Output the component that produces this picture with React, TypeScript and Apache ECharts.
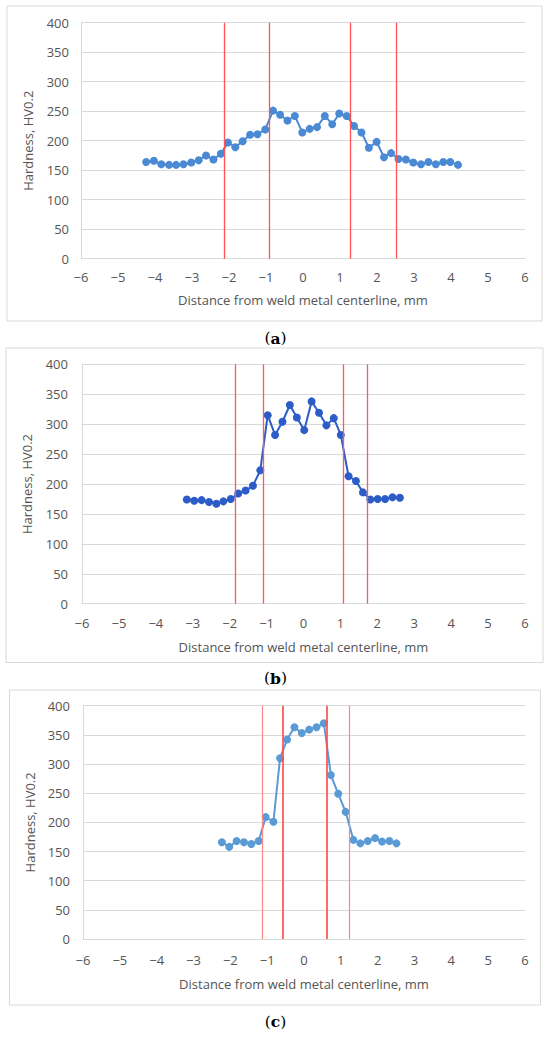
import React, { useEffect, useRef } from "react";
import * as echarts from "echarts";

// Panel (a)
const xA = [-4.24,-4.03,-3.83,-3.62,-3.43,-3.23,-3.02,-2.82,-2.62,-2.42,-2.22,-2.03,-1.83,-1.63,-1.43,-1.23,-1.02,-0.81,-0.62,-0.42,-0.22,-0.02,0.18,0.38,0.59,0.79,0.98,1.18,1.38,1.58,1.78,1.99,2.19,2.38,2.58,2.78,2.98,3.19,3.39,3.59,3.79,3.98,4.19];
const yA = [164,166,160,159,159,160,163,167,175,168,178,197,189,199,210,211,219,251,244,234,242,214,220,223,242,228,246,242,225,214,188,198,172,179,169,168,163,160,164,160,164,164,159];
const linesA = [-2.13, -0.92, 1.27, 2.52];

// Panel (b)
const xB = [-3.16,-2.96,-2.76,-2.56,-2.36,-2.17,-1.97,-1.77,-1.57,-1.37,-1.17,-0.97,-0.77,-0.57,-0.37,-0.18,0.02,0.22,0.42,0.62,0.82,1.01,1.22,1.42,1.61,1.81,2.01,2.21,2.41,2.61];
const yB = [174,172,173,170,167,171,175,184,189,197,223,315,282,304,332,311,290,338,319,298,310,282,213,205,186,174,175,175,178,177];
const linesB = [-1.84, -1.10, 1.07, 1.74];

// Panel (c)
const xC = [-2.23,-2.03,-1.83,-1.63,-1.43,-1.23,-1.04,-0.83,-0.65,-0.46,-0.26,-0.06,0.14,0.34,0.54,0.73,0.93,1.13,1.34,1.53,1.73,1.93,2.12,2.32,2.51];
const yC = [166,158,168,166,163,168,209,201,310,342,363,353,359,363,370,281,249,218,170,164,168,173,167,168,164];
const linesC = [-1.13, -0.57, 0.62, 1.22];

const captions = ["a", "b", "c"];
const xTitle = "Distance from weld metal centerline, mm";
const yTitle = "Hardness, HV0.2";

const FONT = "'Open Sans', 'Noto Sans', sans-serif";
const TXT = "#555555";
const GRID = "#d9d9d9";
const FS = 13;

const fmtX = (v: number) => (v < 0 ? "\u2212" + Math.abs(v) : String(v));

export default function App() {
  const ref = useRef<HTMLDivElement>(null);
  useEffect(() => {
    if (!ref.current) return;
    const chart = echarts.init(ref.current, undefined, { renderer: "svg" });

    const grids = [
      { left: 81, top: 22.7, width: 444, height: 236 },
      { left: 82, top: 364.3, width: 443, height: 239.4 },
      { left: 83, top: 705.7, width: 442, height: 233.3 },
    ];
    const labelMargins = [12, 14, 13];
    const xLabelMargins = [12, 13, 14];
    const xNameGaps = [35, 37, 38];
    const yNameGaps = [47, 49, 47];

    const xAxes = grids.map((_, i) => ({
      type: "value",
      gridIndex: i,
      min: -6,
      max: 6,
      interval: 1,
      name: xTitle,
      nameLocation: "middle",
      nameGap: xNameGaps[i],
      nameTextStyle: { color: TXT, fontSize: FS, fontFamily: FONT },
      axisLine: { show: true, onZero: false, lineStyle: { color: GRID, width: 1 } },
      axisTick: { show: false },
      splitLine: { show: false },
      axisLabel: { color: TXT, fontSize: FS, fontFamily: FONT, margin: xLabelMargins[i], formatter: fmtX },
    }));
    const yAxes = grids.map((_, i) => ({
      type: "value",
      gridIndex: i,
      min: 0,
      max: 400,
      interval: 50,
      name: yTitle,
      nameLocation: "middle",
      nameGap: yNameGaps[i],
      nameTextStyle: { color: TXT, fontSize: FS, fontFamily: FONT },
      axisLine: { show: true, onZero: false, lineStyle: { color: GRID, width: 1 } },
      axisTick: { show: false },
      splitLine: { show: true, lineStyle: { color: GRID, width: 1 } },
      axisLabel: { color: TXT, fontSize: FS, fontFamily: FONT, margin: labelMargins[i] },
    }));

    const mk = (i: number, xs: number[], ys: number[], color: string, lines: number[], lineCfg: (k: number) => any) => ({
      type: "line",
      xAxisIndex: i,
      yAxisIndex: i,
      data: xs.map((x, k) => [x, ys[k]]),
      symbol: "circle",
      symbolSize: 8,
      itemStyle: { color },
      lineStyle: { color, width: 2 },
      z: 3,
      markLine: {
        silent: true,
        symbol: ["none", "none"],
        label: { show: false },
        data: lines.map((v, k) => ({ xAxis: v, lineStyle: lineCfg(k) })),
      },
    });

    const redA = () => ({ color: "#ff5252", width: 1.3, type: "solid" });
    const redB = () => ({ color: "#ff5a5a", width: 1.3, type: "solid" });
    const redC = (k: number) =>
      k === 1 || k === 2
        ? { color: "#ff5050", width: 1.7, type: "solid" }
        : { color: "#ff8585", width: 1.2, type: "solid" };

    const borders = [
      { x: 7, y: 6, w: 535, h: 315 },
      { x: 6, y: 348, w: 537, h: 314.5 },
      { x: 9.5, y: 690, w: 531, h: 315 },
    ];
    const capY = [338, 678, 1021.7];

    const graphic: any[] = [];
    borders.forEach((b) => {
      graphic.push({
        type: "rect",
        shape: { x: b.x, y: b.y, width: b.w, height: b.h },
        style: { fill: "none", stroke: GRID, lineWidth: 1 },
        silent: true,
        z: -1,
      });
    });
    captions.forEach((c, i) => {
      graphic.push({
        type: "text",
        x: 275.5,
        y: capY[i],
        style: {
          text: "{p|(}{b|" + c + "}{p|)}",
          align: "center",
          verticalAlign: "middle",
          rich: {
            p: { fontFamily: "'DejaVu Serif', serif", fontSize: 15.5, fill: "#000" },
            b: { fontFamily: "'DejaVu Serif', serif", fontSize: 15.5, fontWeight: "bold", fill: "#000" },
          },
        },
        silent: true,
      });
    });

    chart.setOption({
      animation: false,
      backgroundColor: "#ffffff",
      grid: grids,
      xAxis: xAxes,
      yAxis: yAxes,
      series: [
        mk(0, xA, yA, "#4a89d4", linesA, redA),
        mk(1, xB, yB, "#2b5cc8", linesB, redB),
        mk(2, xC, yC, "#5b9bd5", linesC, redC),
      ],
      graphic,
    });
    return () => chart.dispose();
  }, []);
  return (
    <div
      ref={ref}
      style={{ position: "absolute", left: 0, top: 0, width: 550, height: 1037, background: "#fff" }}
    />
  );
}
